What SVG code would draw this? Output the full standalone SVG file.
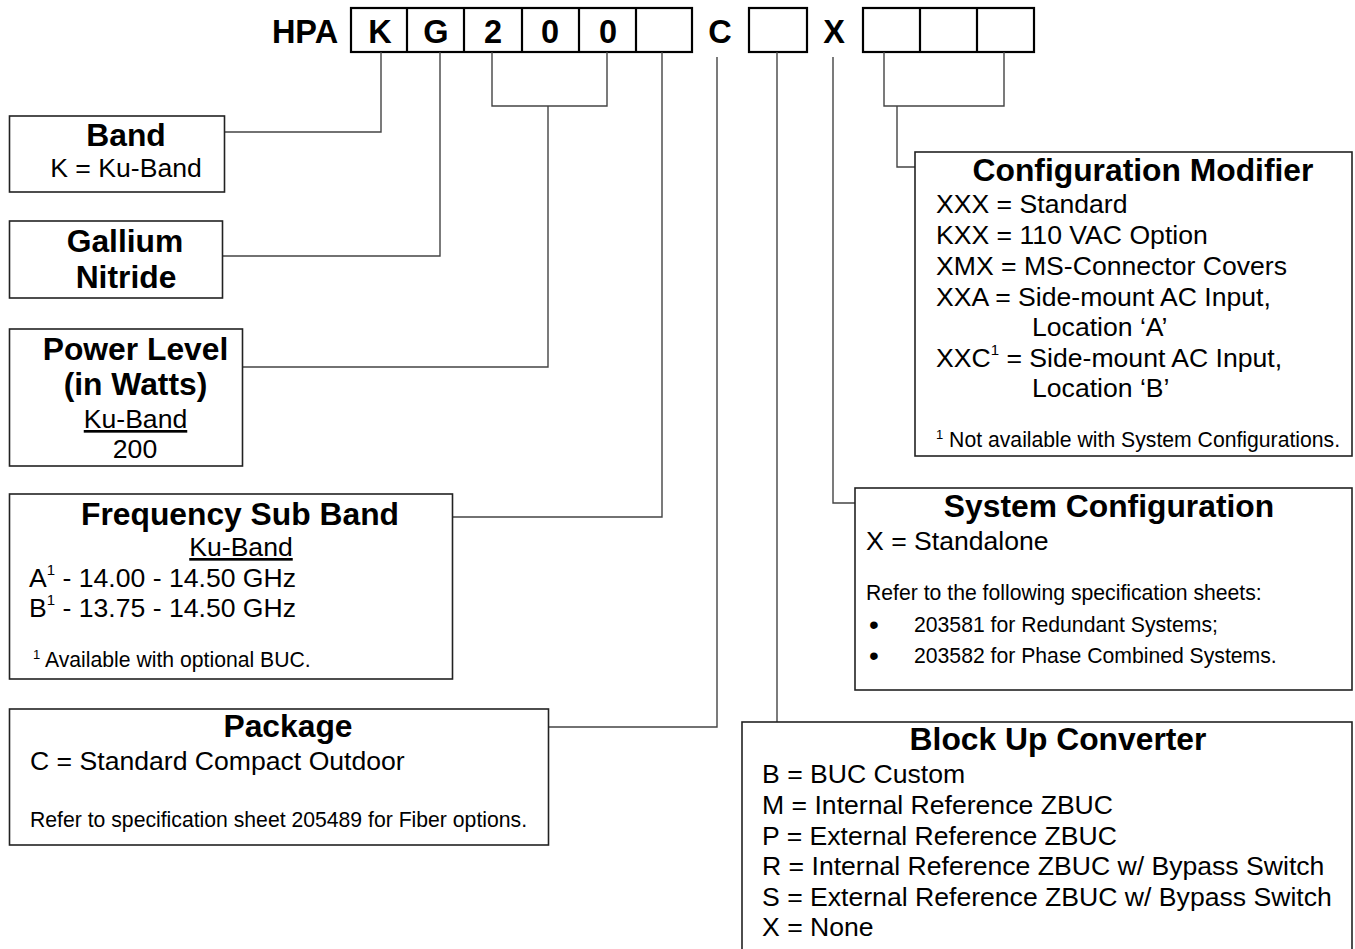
<svg xmlns="http://www.w3.org/2000/svg" width="1355" height="949" viewBox="0 0 1355 949">
<style>
text{font-family:"Liberation Sans",Arial,sans-serif;fill:#000}
.hd{font-size:32.5px;font-weight:bold;text-anchor:middle}
.t{font-size:31.8px;font-weight:bold;text-anchor:middle}
.b{font-size:26.6px}
.c{text-anchor:middle}
.s{font-size:21.2px}
.sup{font-size:15px}
.bul{font-size:28px;text-anchor:middle}
.cell{fill:#fff;stroke:#000;stroke-width:2.2}
.box{fill:#fff;stroke:#222;stroke-width:1.6}
.ln{fill:none;stroke:#444;stroke-width:1.4}
.u{text-decoration:underline}
</style>
<rect width="1355" height="949" fill="#fff"/>
<g id="code">
<text class="hd" x="305" y="43">HPA</text>
<rect class="cell" x="351" y="8" width="341" height="44"/>
<path class="ln" style="stroke:#000;stroke-width:2.2" d="M407,8V52M464,8V52M522,8V52M579,8V52M636,8V52"/>
<text class="hd" x="380" y="43">K</text>
<text class="hd" x="436" y="43">G</text>
<text class="hd" x="493" y="43">2</text>
<text class="hd" x="550" y="43">0</text>
<text class="hd" x="608" y="43">0</text>
<text class="hd" x="720" y="43">C</text>
<rect class="cell" x="749" y="8" width="58" height="44"/>
<text class="hd" x="834" y="43">X</text>
<rect class="cell" x="863" y="8" width="171" height="44"/>
<path class="ln" style="stroke:#000;stroke-width:2.2" d="M920,8V52M977,8V52"/>
</g>
<g id="connectors">
<path class="ln" d="M381,52V132H224.5"/>
<path class="ln" d="M440,52V256H223"/>
<path class="ln" d="M492,52V106H607V52M548,106V367H242.5"/>
<path class="ln" d="M662,52V517H452.5"/>
<path class="ln" d="M717,57V727H548.5"/>
<path class="ln" d="M777,52V722"/>
<path class="ln" d="M833,57V503H855"/>
<path class="ln" d="M884,52V106H1004V52M897,106V167H915"/>
</g>
<g id="band">
<rect class="box" x="9.5" y="116" width="215" height="76"/>
<text class="t" x="126" y="146">Band</text>
<text class="b c" x="126" y="177">K = Ku-Band</text>
</g>
<g id="gallium">
<rect class="box" x="9.5" y="221" width="213" height="77"/>
<text class="t" x="125" y="252">Gallium</text>
<text class="t" x="126" y="288">Nitride</text>
</g>
<g id="power">
<rect class="box" x="9.5" y="329" width="233" height="137"/>
<text class="t" x="135.5" y="360">Power Level</text>
<text class="t" x="135.5" y="395">(in Watts)</text>
<text class="b c u" x="135.5" y="428">Ku-Band</text>
<text class="b c" x="135" y="458">200</text>
</g>
<g id="freq">
<rect class="box" x="9.5" y="494" width="443" height="185"/>
<text class="t" x="240" y="525">Frequency Sub Band</text>
<text class="b c u" x="241" y="556">Ku-Band</text>
<text class="b" x="29" y="587">A<tspan class="sup" dy="-12">1</tspan><tspan dy="12"> - 14.00 - 14.50 GHz</tspan></text>
<text class="b" x="29" y="617">B<tspan class="sup" dy="-12">1</tspan><tspan dy="12"> - 13.75 - 14.50 GHz</tspan></text>
<text class="s" x="33" y="667"><tspan style="font-size:13px" dy="-8">1</tspan><tspan dy="8"> Available with optional BUC.</tspan></text>
</g>
<g id="package">
<rect class="box" x="9.5" y="709" width="539" height="136"/>
<text class="t" x="288" y="737">Package</text>
<text class="b" x="30" y="770">C = Standard Compact Outdoor</text>
<text class="s" x="30" y="827">Refer to specification sheet 205489 for Fiber options.</text>
</g>
<g id="config-modifier">
<rect class="box" x="915" y="152" width="437" height="304"/>
<text class="t" x="1143" y="181">Configuration Modifier</text>
<text class="b" x="936" y="213">XXX = Standard</text>
<text class="b" x="936" y="244">KXX = 110 VAC Option</text>
<text class="b" x="936" y="275">XMX = MS-Connector Covers</text>
<text class="b" x="936" y="306">XXA = Side-mount AC Input,</text>
<text class="b" x="1032" y="336">Location ‘A’</text>
<text class="b" x="936" y="367">XXC<tspan class="sup" dy="-12">1</tspan><tspan dy="12"> = Side-mount AC Input,</tspan></text>
<text class="b" x="1032" y="397">Location ‘B’</text>
<text class="s" x="936" y="447"><tspan style="font-size:13px" dy="-8">1</tspan><tspan dy="8"> Not available with System Configurations.</tspan></text>
</g>
<g id="system-configuration">
<rect class="box" x="855" y="488" width="497" height="202"/>
<text class="t" x="1109" y="517">System Configuration</text>
<text class="b" x="866" y="550">X = Standalone</text>
<text class="s" x="866" y="600">Refer to the following specification sheets:</text>
<text class="bul" x="874" y="634">•</text>
<text class="s" x="914" y="632">203581 for Redundant Systems;</text>
<text class="bul" x="874" y="665">•</text>
<text class="s" x="914" y="663">203582 for Phase Combined Systems.</text>
</g>
<g id="block-up-converter">
<rect class="box" x="742" y="722" width="610" height="240"/>
<text class="t" x="1058" y="750">Block Up Converter</text>
<text class="b" x="762" y="783">B = BUC Custom</text>
<text class="b" x="762" y="814">M = Internal Reference ZBUC</text>
<text class="b" x="762" y="845">P = External Reference ZBUC</text>
<text class="b" x="762" y="875">R = Internal Reference ZBUC w/ Bypass Switch</text>
<text class="b" x="762" y="906">S = External Reference ZBUC w/ Bypass Switch</text>
<text class="b" x="762" y="936">X = None</text>
</g>
</svg>
